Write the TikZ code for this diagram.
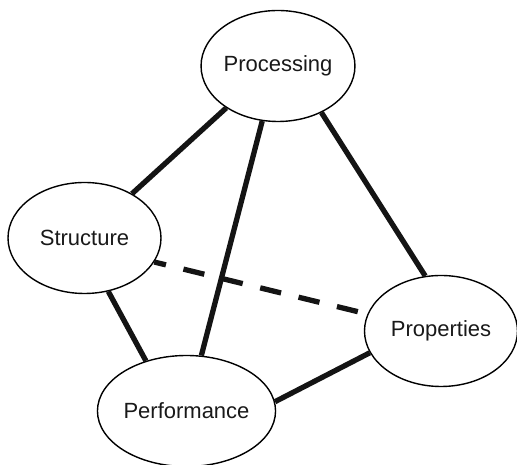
\documentclass[tikz,border=0pt]{standalone}
\usepackage{fontspec}
\setmainfont{Liberation Sans}
\usetikzlibrary{shapes.geometric}
\begin{document}
\begin{tikzpicture}[x=1pt,y=1pt,
  bubble/.style={ellipse,draw=black,line width=1.4pt,minimum width=153pt,minimum height=111pt,inner sep=0pt,font=\fontsize{22}{25}\selectfont,text=black!90},
  link/.style={line width=5.3pt,black!92},
  hidden/.style={line width=5.3pt,black!92,dash pattern=on 21.5pt off 18pt,dash phase=9.5pt}]
\useasboundingbox (0,0) rectangle (517,465);
\node[bubble] (proc) at (278,399) {Processing};
\node[bubble] (stru) at (84.5,227) {Structure};
\node[bubble] (prop) at (441,134) {Properties};
\node[bubble] (perf) at (186.5,54) {Performance};
\draw[link] (proc.219.5) -- (stru.43);
\draw[link] (proc.254.7) -- (perf.75.7);
\draw[link] (proc.313) -- (prop.106.2);
\draw[link] (stru.294) -- (perf.129.8);
\draw[link] (perf.6.8) -- (prop.197.2);
\draw[hidden] (stru.-19.9) -- (prop.167.8);
\end{tikzpicture}
\end{document}
